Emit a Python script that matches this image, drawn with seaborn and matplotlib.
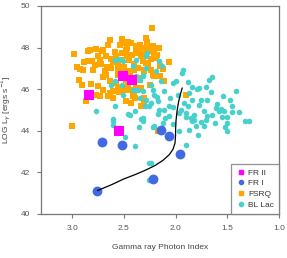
import matplotlib
matplotlib.use("Agg")
import matplotlib.pyplot as plt
import seaborn as sns
import pandas as pd
from matplotlib.lines import Line2D

# ---------------- data ----------------
fsrq_x = [2.98, 2.845, 2.829, 2.764, 2.71, 2.653, 2.749, 2.88, 2.95, 2.925, 2.812, 2.797, 2.723, 2.685,
          2.935, 2.749, 2.733, 2.867, 2.636, 2.605, 2.476, 2.54, 2.47, 2.428, 2.588, 2.524, 2.47, 2.62,
          2.557, 2.38, 2.332, 2.284, 2.22, 2.204, 2.284, 2.236, 2.348, 2.509, 2.572, 2.444,
          2.226, 2.29, 2.278, 2.284, 2.22, 2.156, 2.204, 2.188, 2.06, 2.316, 2.268, 2.3, 2.22, 2.204,
          2.332, 2.3, 1.899, 2.108, 2.149, 3.005, 2.172,
          2.492, 2.455, 2.3, 2.701, 2.668, 2.733, 2.781, 2.845, 2.893, 2.668, 2.636, 2.557, 2.476,
          2.444, 2.46, 2.38, 2.492, 2.413, 2.428, 2.701, 2.764, 2.653, 2.3, 2.332,
          2.60, 2.56, 2.50, 2.45, 2.40, 2.36, 2.33, 2.62, 2.58, 2.52, 2.48, 2.42, 2.38, 2.34, 2.26,
          2.24, 2.18, 2.55, 2.50, 2.44, 2.40, 2.35, 2.30, 2.66, 2.70, 2.56, 2.40, 2.25, 2.15, 2.12,
          2.63, 2.52, 2.47, 2.37, 2.28, 2.82, 2.90, 2.60, 2.55, 2.39]
fsrq_y = [47.68, 47.82, 47.86, 47.94, 47.82, 48.14, 47.61, 47.29, 47.07, 46.97, 47.37, 46.94, 47.21, 46.86,
          46.46, 46.13, 45.65, 45.41, 45.82, 45.58, 45.41, 48.14, 48.19, 48.23, 47.77, 47.42, 47.61, 47.02,
          46.94, 47.74, 47.58, 48.47, 48.06, 47.82, 47.26, 46.94, 46.46, 46.06, 46.30, 45.98,
          48.95, 48.47, 48.14, 47.74, 47.99, 47.99, 47.74, 47.50, 47.29, 47.34, 47.18, 46.94, 46.70, 46.62,
          46.06, 45.58, 45.74, 46.38, 46.65, 44.21, 44.00,
          48.23, 48.26, 47.99, 47.90, 47.58, 47.42, 47.18, 47.34, 46.94, 46.70, 46.38, 46.70, 46.46,
          46.86, 46.22, 46.06, 45.98, 45.65, 45.34, 45.98, 45.74, 45.65, 45.34, 45.17,
          47.30, 47.15, 47.05, 47.40, 47.20, 47.00, 47.85, 47.45, 47.60, 47.75, 47.90, 47.65, 47.95, 48.10, 47.85,
          47.45, 47.65, 46.70, 46.80, 46.65, 46.90, 46.55, 46.85, 47.05, 46.60, 46.10, 45.80, 46.20, 47.10, 46.95,
          48.35, 48.40, 48.00, 48.05, 48.25, 46.25, 46.20, 45.90, 45.85, 45.55]

bllac_x = [2.278, 2.156, 2.13, 2.188, 1.932, 1.938, 1.643, 1.675, 2.0, 2.028, 1.884, 2.14, 2.316, 2.236,
           1.836, 1.797, 1.771, 1.701, 1.868, 2.204, 2.108, 1.418, 2.29, 2.172, 1.755, 1.691, 1.54,
           1.476, 1.836, 2.259, 2.06, 1.884, 1.771, 1.605, 2.156, 2.108, 1.947, 2.028, 1.531, 1.451,
           1.387, 1.963, 2.316, 1.899, 1.851, 1.691, 1.643, 1.547, 1.499, 1.29, 1.819, 2.204, 1.723,
           2.22, 2.124, 1.836, 1.803, 1.868, 1.787, 1.963, 1.899, 1.499, 1.499, 1.33, 2.236, 1.707,
           2.605, 2.605, 2.492, 2.387, 2.316, 2.252, 2.252,
           2.55, 2.509, 2.588, 2.515, 2.413, 2.38, 2.348, 2.413, 2.364, 2.316, 2.509, 2.771, 2.588,
           2.444, 2.387, 2.332, 2.605, 2.284, 2.284, 2.316, 2.348, 2.294,
           2.588, 2.38, 2.62, 2.396, 2.22, 2.18, 2.05, 1.98, 1.92, 1.60, 1.58, 1.45, 1.75, 1.72,
           2.06, 2.02, 1.90, 1.82, 1.66, 1.62, 1.56, 1.52, 2.10, 2.17, 2.24, 2.35, 2.46]
bllac_y = [47.74, 47.34, 47.10, 46.86, 46.94, 46.78, 46.59, 46.46, 46.38, 46.30, 46.33, 46.38, 46.62, 46.22,
           46.11, 46.01, 46.06, 46.11, 45.82, 45.74, 45.90, 45.90, 45.49, 45.41, 45.49, 45.49, 45.65,
           45.49, 45.49, 45.17, 45.20, 45.20, 45.25, 45.09, 45.01, 45.01, 45.01, 45.14, 44.93, 44.88,
           44.88, 44.85, 44.61, 44.66, 44.61, 44.69, 44.77, 44.66, 44.66, 44.45, 44.53, 44.21, 44.21,
           44.18, 44.37, 44.45, 44.24, 44.05, 43.81, 43.97, 43.33, 44.37, 43.97, 44.45, 42.44, 44.53,
           44.45, 44.29, 43.70, 43.28, 44.48, 42.44, 41.64,
           47.46, 47.34, 46.38, 46.22, 47.10, 46.62, 46.46, 45.98, 45.98, 45.90, 45.74, 44.93, 45.20,
           44.77, 44.96, 44.56, 44.58, 47.58, 47.02, 46.70, 45.58, 45.17,
           47.42, 47.42, 46.22, 45.98, 45.95, 45.60, 45.55, 45.70, 45.35, 45.30, 44.95, 45.20, 44.40, 44.95,
           44.70, 44.30, 44.85, 44.75, 45.85, 44.35, 45.05, 44.20, 44.60, 44.80, 45.35, 44.20, 44.80]

fr2_x = [2.509, 2.418, 2.836, 2.547]
fr2_y = [46.62, 46.46, 45.72, 44.00]

fr1_x = [2.711, 2.521, 2.755, 2.137, 2.066, 1.957, 2.220]
fr1_y = [43.44, 43.31, 41.12, 44.01, 43.73, 42.86, 41.67]

curve_x = [2.755, 2.62, 2.50, 2.40, 2.30, 2.20, 2.12, 2.06, 2.025, 2.005, 2.000, 1.999, 1.995, 1.985, 1.97, 1.95, 1.935]
curve_y = [41.12, 41.40, 41.68, 41.87, 42.08, 42.32, 42.58, 42.85, 43.10, 43.40, 43.75, 44.10, 44.50, 44.95, 45.40, 45.80, 46.06]

x_ticks = [3.0, 2.5, 2.0, 1.5, 1.0]
y_ticks = [40, 42, 44, 46, 48, 50]
labels = ["FR II", "FR I", "FSRQ", "BL Lac"]
colors = {"FR II": "#FF00FF", "FR I": "#4169E1", "FSRQ": "#FFA500", "BL Lac": "#48D1CC"}

# ---------------- plot ----------------
sns.set_style("white")
plt.rcParams["font.family"] = ["Liberation Sans", "DejaVu Sans"]

fig = plt.figure(figsize=(2.87, 2.58), dpi=100)
ax = fig.add_axes([0.143, 0.171, 0.829, 0.806])

sns.scatterplot(x=fsrq_x, y=fsrq_y, marker="s", s=16, color=colors["FSRQ"], linewidth=0, ax=ax)
sns.scatterplot(x=bllac_x, y=bllac_y, marker="o", s=16, color=colors["BL Lac"], linewidth=0, ax=ax)
sns.lineplot(x=curve_x, y=curve_y, sort=False, color="black", linewidth=0.9, ax=ax)
sns.scatterplot(x=fr2_x, y=fr2_y, marker="s", s=45, color=colors["FR II"], linewidth=0, ax=ax)
sns.scatterplot(x=fr1_x, y=fr1_y, marker="o", s=50, color=colors["FR I"], linewidth=0, ax=ax)

ax.set_xlim(3.3, 1.0)
ax.set_ylim(40, 50)
ax.set_xticks(x_ticks)
ax.set_xticklabels([f"{t:.1f}" for t in x_ticks])
ax.set_yticks(y_ticks)
ax.set_yticklabels([str(t) for t in y_ticks])

for sp in ax.spines.values():
    sp.set_color("#777777")
    sp.set_linewidth(0.9)
ax.tick_params(axis="both", direction="out", length=3, width=0.8, color="#777777",
               labelsize=6, labelcolor="#555555", pad=5, left=True, bottom=True)

ax.set_xlabel("Gamma ray Photon Index", fontsize=6, color="#444444", labelpad=9)
ax.set_ylabel(r"LOG L$_{\gamma}$ [ergs s$^{-1}$]", fontsize=6, color="#444444", labelpad=5)

markers = {"FR II": "s", "FR I": "o", "FSRQ": "s", "BL Lac": "o"}
handles = [Line2D([0], [0], marker=markers[l], linestyle="", color=colors[l], markersize=3) for l in labels]
leg = ax.legend(handles, labels, loc="lower right", fontsize=6, frameon=True, fancybox=False,
                borderaxespad=0, handletextpad=0.3, labelspacing=0.35, borderpad=0.6, handlelength=1.2)
leg.get_frame().set_edgecolor("#777777")
leg.get_frame().set_linewidth(0.9)
for t in leg.get_texts():
    t.set_color("#333333")

fig.savefig("out.png", dpi=100)
